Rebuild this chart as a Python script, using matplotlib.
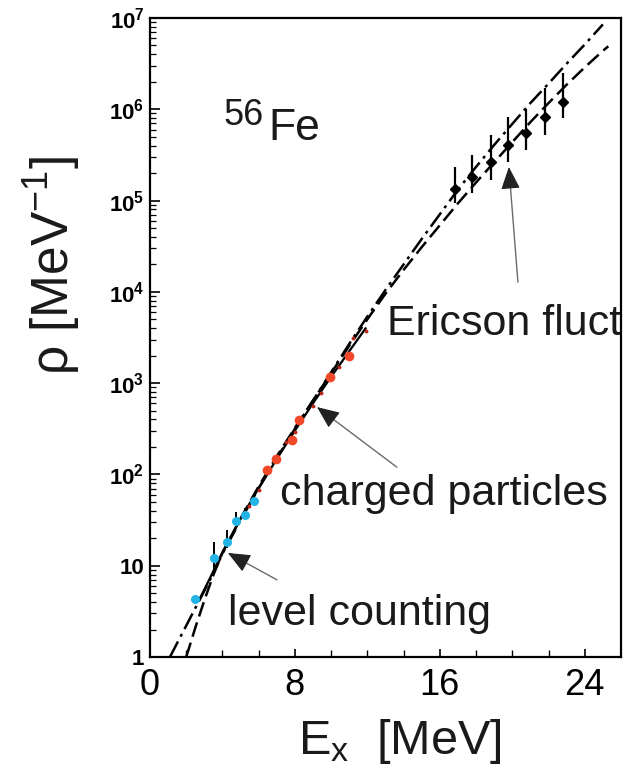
import numpy as np
import matplotlib
matplotlib.use('Agg')
import matplotlib.pyplot as plt
from matplotlib.ticker import FixedLocator, LogLocator, NullFormatter, FixedFormatter

plt.rcParams['font.family'] = ['Liberation Sans', 'DejaVu Sans']
plt.rcParams['mathtext.fontset'] = 'custom'
plt.rcParams['mathtext.rm'] = 'Liberation Sans'
plt.rcParams['mathtext.it'] = 'Liberation Sans:italic'
plt.rcParams['mathtext.bf'] = 'Liberation Sans:bold'

# ---------------- data ----------------
# level counting (blue)
level_E = [2.48, 3.53, 4.24, 4.74, 5.23, 5.73]
level_rho = [4.3, 12.1, 18.2, 30.9, 35.9, 51.0]
level_lo = [4.3, 8.9, 15.8, 28.0, 35.9, 51.0]
level_hi = [4.3, 18.2, 24.5, 39.0, 43.0, 51.0]

# charged particles (red, large)
charged_E = [6.45, 6.94, 7.82, 8.21, 9.92, 10.96]
charged_rho = [112, 147, 238, 394, 1167, 1982]

# charged particles (small dark-red dots)
charged2_E = [5.45, 6.0, 7.49, 7.99, 8.98, 9.42, 10.41, 11.2, 11.9]
charged2_rho = [45, 67, 226, 291, 561, 778, 1500, 3100, 3720]

# Ericson fluctuations (black diamonds)
ericson_E = [16.86, 17.8, 18.84, 19.78, 20.77, 21.82, 22.81]
ericson_rho = [1.35e5, 1.82e5, 2.63e5, 4.07e5, 5.5e5, 8.13e5, 1.20e6]
ericson_lo = [9.5e4, 1.2e5, 1.66e5, 2.63e5, 3.55e5, 5.25e5, 7.94e5]
ericson_hi = [2.34e5, 3.16e5, 5.25e5, 8.13e5, 1.02e6, 1.70e6, 2.51e6]

# theory curves
curveA_E = [1.1, 2.2, 3.3, 4, 5, 6, 7, 8, 9, 10, 11, 12, 13, 14, 15, 16, 17,
            18, 19, 20, 21, 22, 23, 24, 25]
curveA_rho = [1, 2.63, 6.92, 13.5, 31.6, 70.8, 151, 316, 646, 1318, 2692, 5370,
              1.05e4, 2.0e4, 3.80e4, 7.08e4, 1.32e5, 2.34e5, 4.07e5, 6.92e5,
              1.17e6, 1.91e6, 3.16e6, 5.13e6, 8.51e6]

curveB_E = [2.0, 2.5, 3.0, 3.5, 4, 5, 6, 7, 8, 9, 10, 11, 12, 13, 14, 15, 16,
            17, 18, 19, 20, 21, 22, 23, 24, 25, 25.3]
curveB_rho = [1, 2.09, 4.17, 7.94, 13.8, 33.1, 74.1, 158, 324, 646, 1288, 2570,
              5012, 9550, 1.74e4, 3.09e4, 5.37e4, 9.33e4, 1.58e5, 2.63e5,
              4.37e5, 7.24e5, 1.17e6, 1.86e6, 2.88e6, 4.37e6, 4.90e6]

curveC_E = [2.7, 3.3, 4, 5, 6, 7, 8, 9, 10, 11, 11.9]
curveC_rho = [4.17, 7.24, 14.1, 32.4, 70.8, 148, 302, 603, 1175, 2240, 3980]

x_major = [0, 8, 16, 24]
x_major_labels = ['0', '8', '16', '24']
y_major = [1, 10, 1e2, 1e3, 1e4, 1e5, 1e6, 1e7]
y_major_labels = ['1', '10', r'$\mathbf{10^{2}}$', r'$\mathbf{10^{3}}$',
                  r'$\mathbf{10^{4}}$', r'$\mathbf{10^{5}}$',
                  r'$\mathbf{10^{6}}$', r'$\mathbf{10^{7}}$']

# ---------------- figure ----------------
W, H = 633, 770
fig = plt.figure(figsize=(W / 100, H / 100), dpi=100)
ax = fig.add_axes([150 / W, (H - 657) / H, (621 - 150) / W, (657 - 18) / H])
ax.set_yscale('log')
ax.set_xlim(0, 26)
ax.set_ylim(1, 1e7)

# curves
ax.plot(curveA_E, curveA_rho, color='black', lw=1.8,
        linestyle=(0, (7, 2.2, 1.2, 2.2)), zorder=3)
ax.plot(curveB_E, curveB_rho, color='black', lw=1.8,
        linestyle=(0, (6, 2.5)), zorder=3)
ax.plot(curveC_E, curveC_rho, color='black', lw=1.6, zorder=3)

# level counting
lerr = [np.array(level_rho) - np.array(level_lo),
        np.array(level_hi) - np.array(level_rho)]
ax.errorbar(level_E, level_rho, yerr=lerr, fmt='none', ecolor='black',
            elinewidth=1.4, capsize=0, zorder=4)
ax.plot(level_E, level_rho, 'o', color='#22b4e6', markersize=6.5,
        markeredgewidth=0, zorder=5)

# charged particles
ax.plot(charged2_E, charged2_rho, 'o', color='#b8281a', markersize=2.8,
        markeredgewidth=0, zorder=5)
ax.plot(charged_E, charged_rho, 'o', color='#f2482a', markersize=7,
        markeredgewidth=0, zorder=6)

# Ericson
eerr = [np.array(ericson_rho) - np.array(ericson_lo),
        np.array(ericson_hi) - np.array(ericson_rho)]
ax.errorbar(ericson_E, ericson_rho, yerr=eerr, fmt='D', color='black',
            markersize=5, elinewidth=1.6, capsize=0, zorder=5)

# ticks
ax.xaxis.set_major_locator(FixedLocator(x_major))
ax.xaxis.set_major_formatter(FixedFormatter(x_major_labels))
ax.xaxis.set_minor_locator(FixedLocator(list(range(2, 26, 2))))
ax.yaxis.set_major_locator(FixedLocator(y_major))
ax.yaxis.set_major_formatter(FixedFormatter(y_major_labels))
ax.yaxis.set_minor_locator(LogLocator(base=10, subs=np.arange(2, 10), numticks=20))
ax.yaxis.set_minor_formatter(NullFormatter())
ax.tick_params(axis='x', which='major', direction='in', length=6, width=1.2,
               labelsize=26, pad=8, top=False)
ax.tick_params(axis='x', which='minor', direction='in', length=5, width=1.0, top=False)
ax.tick_params(axis='y', which='major', direction='in', length=7, width=1.2,
               labelsize=16, pad=4, right=False)
ax.tick_params(axis='y', which='minor', direction='in', length=4, width=0.9, right=False)
for lab in ax.get_yticklabels():
    lab.set_fontweight('bold')
for sp in ax.spines.values():
    sp.set_linewidth(1.6)

# text labels
ax.text(4.03, 6.7e5, '56', fontsize=26, ha='left', va='baseline', color='#1a1a1a')
ax.text(6.51, 4.6e5, 'Fe', fontsize=32, ha='left', va='baseline', color='#1a1a1a')
ax.text(13.08, 3365, 'Ericson fluct', fontsize=31, ha='left', va='baseline',
        color='#1a1a1a', clip_on=False, zorder=1)
ax.text(7.17, 46.2, 'charged particles', fontsize=31, ha='left', va='baseline',
        color='#1a1a1a')
ax.text(4.30, 2.24, 'level counting', fontsize=31, ha='left', va='baseline',
        color='#1a1a1a')

# arrows: gray shaft, black head
arrows = [((19.81, 2.33e5), (20.31, 1.28e4)),
          ((9.22, 547), (13.63, 120)),
          ((4.30, 13.8), (7.01, 7.0))]
for tip, tail in arrows:
    ax.annotate('', xy=tip, xytext=tail,
                arrowprops=dict(arrowstyle='-', color='#6a6a6a', lw=1.0,
                                shrinkA=0, shrinkB=2))
    p_tip = ax.transData.transform(tip)
    p_tail = ax.transData.transform(tail)
    d = p_tail - p_tip
    d = d / np.hypot(*d) * 10
    ax.annotate('', xy=tip, xytext=(d[0], d[1]), textcoords='offset pixels',
                arrowprops=dict(arrowstyle='-|>,head_length=0.7,head_width=0.3',
                                color='#222222', lw=0.8, shrinkA=0, shrinkB=0,
                                mutation_scale=20), zorder=7)

# axis titles
fig.text(400 / W, (H - 754) / H, r'E$_\mathregular{x}$  [MeV]', fontsize=35,
         ha='center', va='baseline', color='#1a1a1a')
fig.text(52 / W, (H - 266) / H, r'ρ [MeV$^\mathregular{-1}$]', fontsize=37,
         rotation=90, ha='center', va='center', color='#1a1a1a')

fig.savefig('out.png', dpi=100)
